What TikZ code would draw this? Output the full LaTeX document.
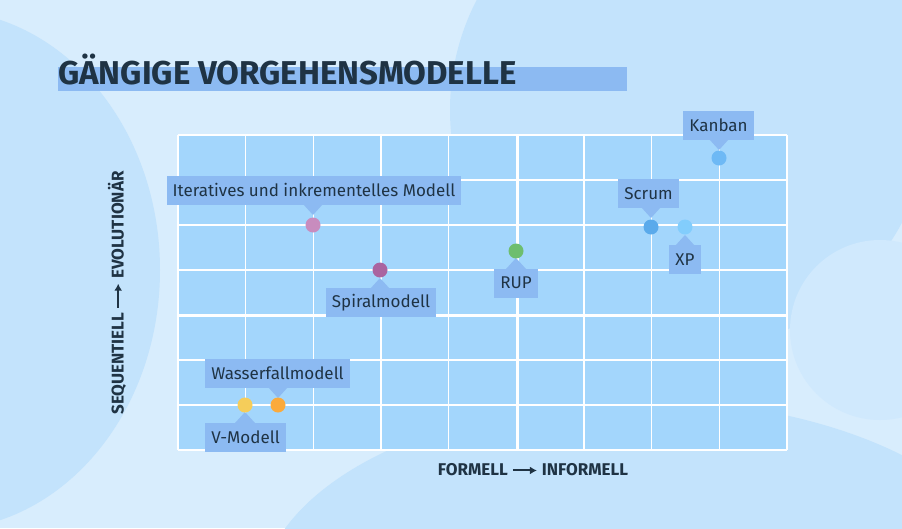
\documentclass[tikz,border=0pt]{standalone}
\usepackage{fontspec}
\setmainfont{Fira Sans}
\usetikzlibrary{shapes.geometric,arrows.meta}
\definecolor{bg}{HTML}{D8EDFD}
\definecolor{blob}{HTML}{C3E3FC}
\definecolor{gridc}{HTML}{A3D6FC}
\definecolor{lab}{HTML}{8CBAF2}
\definecolor{dark}{HTML}{1F3344}
\tikzset{
  lbl/.style={fill=lab,font=\fontsize{17}{20}\selectfont,text=dark,inner xsep=6pt,minimum height=29pt,anchor=center},
  dot/.style={circle,minimum size=15pt,inner sep=0pt},
  axis/.style={font=\bfseries\fontsize{17}{20}\selectfont,text=dark}
}
\begin{document}
\begin{tikzpicture}[x=1pt,y=-1pt]
\useasboundingbox (0,0) rectangle (902,528);
\fill[bg] (0,0) rectangle (902,528);
\begin{scope}
\clip (0,0) rectangle (902,528);
\fill[blob] (690,110) circle (240);
\fill[blob] (-60,270) ellipse (220 and 260);
\fill[blob] (640,600) ellipse (380 and 200);
\fill[bg!60!blob] (880,330) circle (90);
\end{scope}
% title
\fill[lab] (58,67) rectangle (627,91);
\node[anchor=base west,font=\bfseries\fontsize{33}{36}\selectfont,text=dark,inner sep=0] (title) at (58,84) {GÄNGIGE VORGEHENSMODELLE};
% grid
\fill[gridc] (178,135) rectangle (787,450);
\foreach \i in {0,...,9} \draw[white,line width=1.2pt] ({178+\i*67.67},135) -- ({178+\i*67.67},450);
\foreach \j in {0,...,7} \draw[white,line width=1.2pt] (178,{135+\j*45}) -- (787,{135+\j*45});
\draw[white,line width=3pt] (517,135) -- (517,450);
\draw[white,line width=3pt] (178,315) -- (787,315);
% axes
\node[axis] (xax) at (533,470) {FORMELL \tikz[baseline=-0.6ex,x=1pt,y=1pt]\draw[dark,line width=2pt,-{Latex[length=7pt,width=8pt]}] (0,0) -- (24,0); INFORMELL};
\node[axis,rotate=90] (yax) at (117,293) {SEQUENTIELL \tikz[baseline=-0.6ex,x=1pt,y=1pt]\draw[dark,line width=2pt,-{Latex[length=7pt,width=8pt]}] (0,0) -- (24,0); EVOLUTIONÄR};
% labels with pointers
\newcommand{\dn}[3]{\fill[lab] ({#1-10},#2) -- ({#1+10},#2) -- (#1,{#2+11}) -- cycle;}
\newcommand{\up}[3]{\fill[lab] ({#1-10},#2) -- ({#1+10},#2) -- (#1,{#2-11}) -- cycle;}
\node[lbl] (kanban) at (718.5,125.5) {Kanban}; \dn{719}{139}{}
\node[lbl] (scrum) at (648.5,193.5) {Scrum}; \dn{651}{207}{}
\node[lbl] (xp) at (685,259.5) {XP}; \up{685}{246}{}
\node[lbl] (iter) at (314,190) {Iteratives und inkrementelles Modell}; \dn{313}{204}{}
\node[lbl] (spiral) at (381,302.5) {Spiralmodell}; \up{380}{289}{}
\node[lbl] (rup) at (516,283) {RUP}; \up{516}{269}{}
\node[lbl] (wasser) at (277.5,373) {Wasserfallmodell}; \dn{278}{387}{}
\node[lbl] (vmod) at (245.5,437) {V-Modell}; \up{245}{423}{}
% dots
\node[dot,fill={rgb,255:red,110;green,185;blue,245}] (d1) at (719,158) {};
\node[dot,fill={rgb,255:red,90;green,170;blue,235}] (d2) at (651,227) {};
\node[dot,fill={rgb,255:red,130;green,205;blue,252}] (d3) at (685,227) {};
\node[dot,fill={rgb,255:red,200;green,140;blue,190}] (d4) at (313,225) {};
\node[dot,fill={rgb,255:red,170;green,100;blue,160}] (d5) at (380,270) {};
\node[dot,fill={rgb,255:red,110;green,190;blue,110}] (d6) at (516,251) {};
\node[dot,fill={rgb,255:red,250;green,170;blue,60}] (d7) at (278,405) {};
\node[dot,fill={rgb,255:red,245;green,205;blue,90}] (d8) at (245,405) {};
\end{tikzpicture}
\end{document}
